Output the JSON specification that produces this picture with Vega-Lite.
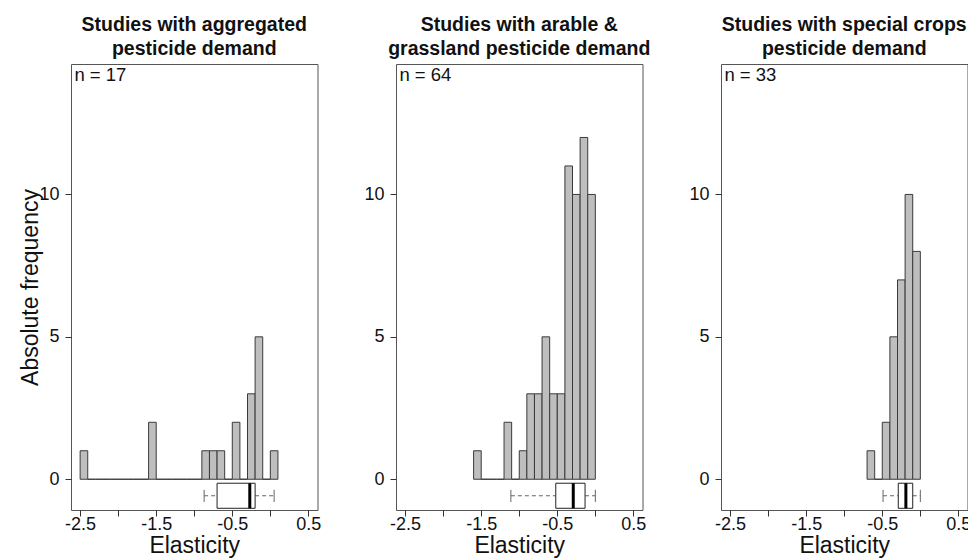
{
  "$schema": "https://vega.github.io/schema/vega-lite/v6.json",
  "background": "white",
  "padding": {"left": 19, "top": 14, "right": 0, "bottom": 0},
  "config": {
    "font": "Liberation Sans",
    "view": {"stroke": "#555555", "strokeWidth": 1},
    "axis": {"grid": false, "domain": false, "tickColor": "#333333", "tickSize": 6, "labelFont": "Liberation Sans", "labelFontSize": 18, "labelColor": "#111111", "titleFont": "Liberation Sans", "titleFontSize": 23, "titleFontWeight": "normal", "titleColor": "#111111"},
    "axisX": {"labelPadding": -1, "titlePadding": 1, "labelFlush": false, "labelOverlap": false},
    "axisY": {"labelPadding": 6, "titlePadding": -4, "labelOverlap": false},
    "title": {"font": "Liberation Sans", "fontSize": 19.5, "fontWeight": "bold", "anchor": "middle", "frame": "group", "lineHeight": 24.3, "color": "#111111", "baseline": "bottom", "offset": 4}
  },
  "datasets": {
    "hist": [
      {"panel": "A", "bin_start": -2.5, "bin_end": -2.4, "count": 1},
      {"panel": "A", "bin_start": -2.4, "bin_end": -2.3, "count": 0},
      {"panel": "A", "bin_start": -2.3, "bin_end": -2.2, "count": 0},
      {"panel": "A", "bin_start": -2.2, "bin_end": -2.1, "count": 0},
      {"panel": "A", "bin_start": -2.1, "bin_end": -2.0, "count": 0},
      {"panel": "A", "bin_start": -2.0, "bin_end": -1.9, "count": 0},
      {"panel": "A", "bin_start": -1.9, "bin_end": -1.8, "count": 0},
      {"panel": "A", "bin_start": -1.8, "bin_end": -1.7, "count": 0},
      {"panel": "A", "bin_start": -1.7, "bin_end": -1.6, "count": 0},
      {"panel": "A", "bin_start": -1.6, "bin_end": -1.5, "count": 2},
      {"panel": "A", "bin_start": -1.5, "bin_end": -1.4, "count": 0},
      {"panel": "A", "bin_start": -1.4, "bin_end": -1.3, "count": 0},
      {"panel": "A", "bin_start": -1.3, "bin_end": -1.2, "count": 0},
      {"panel": "A", "bin_start": -1.2, "bin_end": -1.1, "count": 0},
      {"panel": "A", "bin_start": -1.1, "bin_end": -1.0, "count": 0},
      {"panel": "A", "bin_start": -1.0, "bin_end": -0.9, "count": 0},
      {"panel": "A", "bin_start": -0.9, "bin_end": -0.8, "count": 1},
      {"panel": "A", "bin_start": -0.8, "bin_end": -0.7, "count": 1},
      {"panel": "A", "bin_start": -0.7, "bin_end": -0.6, "count": 1},
      {"panel": "A", "bin_start": -0.6, "bin_end": -0.5, "count": 0},
      {"panel": "A", "bin_start": -0.5, "bin_end": -0.4, "count": 2},
      {"panel": "A", "bin_start": -0.4, "bin_end": -0.3, "count": 0},
      {"panel": "A", "bin_start": -0.3, "bin_end": -0.2, "count": 3},
      {"panel": "A", "bin_start": -0.2, "bin_end": -0.1, "count": 5},
      {"panel": "A", "bin_start": -0.1, "bin_end": 0.0, "count": 0},
      {"panel": "A", "bin_start": 0.0, "bin_end": 0.1, "count": 1},
      {"panel": "B", "bin_start": -1.6, "bin_end": -1.5, "count": 1},
      {"panel": "B", "bin_start": -1.5, "bin_end": -1.4, "count": 0},
      {"panel": "B", "bin_start": -1.4, "bin_end": -1.3, "count": 0},
      {"panel": "B", "bin_start": -1.3, "bin_end": -1.2, "count": 0},
      {"panel": "B", "bin_start": -1.2, "bin_end": -1.1, "count": 2},
      {"panel": "B", "bin_start": -1.1, "bin_end": -1.0, "count": 0},
      {"panel": "B", "bin_start": -1.0, "bin_end": -0.9, "count": 1},
      {"panel": "B", "bin_start": -0.9, "bin_end": -0.8, "count": 3},
      {"panel": "B", "bin_start": -0.8, "bin_end": -0.7, "count": 3},
      {"panel": "B", "bin_start": -0.7, "bin_end": -0.6, "count": 5},
      {"panel": "B", "bin_start": -0.6, "bin_end": -0.5, "count": 3},
      {"panel": "B", "bin_start": -0.5, "bin_end": -0.4, "count": 3},
      {"panel": "B", "bin_start": -0.4, "bin_end": -0.3, "count": 11},
      {"panel": "B", "bin_start": -0.3, "bin_end": -0.2, "count": 10},
      {"panel": "B", "bin_start": -0.2, "bin_end": -0.1, "count": 12},
      {"panel": "B", "bin_start": -0.1, "bin_end": 0.0, "count": 10},
      {"panel": "C", "bin_start": -0.7, "bin_end": -0.6, "count": 1},
      {"panel": "C", "bin_start": -0.6, "bin_end": -0.5, "count": 0},
      {"panel": "C", "bin_start": -0.5, "bin_end": -0.4, "count": 2},
      {"panel": "C", "bin_start": -0.4, "bin_end": -0.3, "count": 5},
      {"panel": "C", "bin_start": -0.3, "bin_end": -0.2, "count": 7},
      {"panel": "C", "bin_start": -0.2, "bin_end": -0.1, "count": 10},
      {"panel": "C", "bin_start": -0.1, "bin_end": 0.0, "count": 8}
    ],
    "box": [
      {"panel": "A", "lo": -0.87, "q1": -0.70, "median": -0.27, "q3": -0.20, "hi": 0.05, "label": "n = 17"},
      {"panel": "B", "lo": -1.11, "q1": -0.52, "median": -0.29, "q3": -0.135, "hi": 0.0, "label": "n = 64"},
      {"panel": "C", "lo": -0.49, "q1": -0.29, "median": -0.19, "q3": -0.10, "hi": 0.0, "label": "n = 33"}
    ]
  },
  "bounds": "flush",
  "spacing": 78,
  "hconcat": [
    {
      "width": 246.5, "height": 446,
      "title": {"text": ["Studies with aggregated", "pesticide demand"]},
      "layer": [
        {"data": {"name": "hist"}, "transform": [{"filter": "datum.panel === 'A'"}],
         "mark": {"type": "rect", "fill": "#bebebe", "stroke": "#3a3a3a", "strokeWidth": 1},
         "encoding": {
           "x": {"field": "bin_start", "type": "quantitative", "title": "Elasticity", "scale": {"domain": [-2.62, 0.62], "nice": false, "zero": false},
                 "axis": {"values": [-2.5, -2, -1.5, -1, -0.5, 0, 0.5], "labelExpr": "datum.value == -2.5 ? '-2.5' : datum.value == -1.5 ? '-1.5' : datum.value == -0.5 ? '-0.5' : datum.value == 0.5 ? '0.5' : ''"}},
           "x2": {"field": "bin_end"},
           "y": {"field": "count", "type": "quantitative", "title": "Absolute frequency", "scale": {"domain": [-1.08, 14.58], "nice": false, "zero": false}, "axis": {"values": [0, 5, 10]}},
           "y2": {"datum": 0}
         }},
        {"data": {"name": "box"}, "transform": [{"filter": "datum.panel === 'A'"}],
         "mark": {"type": "rule", "color": "#666666", "strokeDash": [4, 3], "strokeWidth": 1},
         "encoding": {"x": {"field": "lo", "type": "quantitative", "title": "Elasticity"}, "x2": {"field": "q1"}, "y": {"datum": -0.58, "type": "quantitative", "title": "Absolute frequency"}}},
        {"data": {"name": "box"}, "transform": [{"filter": "datum.panel === 'A'"}],
         "mark": {"type": "rule", "color": "#666666", "strokeDash": [4, 3], "strokeWidth": 1},
         "encoding": {"x": {"field": "q3", "type": "quantitative", "title": "Elasticity"}, "x2": {"field": "hi"}, "y": {"datum": -0.58, "type": "quantitative", "title": "Absolute frequency"}}},
        {"data": {"name": "box"}, "transform": [{"filter": "datum.panel === 'A'"}],
         "mark": {"type": "rule", "color": "#666666", "strokeWidth": 1},
         "encoding": {"x": {"field": "lo", "type": "quantitative", "title": "Elasticity"}, "y": {"datum": -0.37, "type": "quantitative", "title": "Absolute frequency"}, "y2": {"datum": -0.8}}},
        {"data": {"name": "box"}, "transform": [{"filter": "datum.panel === 'A'"}],
         "mark": {"type": "rule", "color": "#666666", "strokeWidth": 1},
         "encoding": {"x": {"field": "hi", "type": "quantitative", "title": "Elasticity"}, "y": {"datum": -0.37, "type": "quantitative", "title": "Absolute frequency"}, "y2": {"datum": -0.8}}},
        {"data": {"name": "box"}, "transform": [{"filter": "datum.panel === 'A'"}],
         "mark": {"type": "rect", "fill": "white", "stroke": "#222222", "strokeWidth": 1},
         "encoding": {"x": {"field": "q1", "type": "quantitative", "title": "Elasticity"}, "x2": {"field": "q3"}, "y": {"datum": -0.14, "type": "quantitative", "title": "Absolute frequency"}, "y2": {"datum": -1.02}}},
        {"data": {"name": "box"}, "transform": [{"filter": "datum.panel === 'A'"}],
         "mark": {"type": "rule", "color": "#000000", "strokeWidth": 3},
         "encoding": {"x": {"field": "median", "type": "quantitative", "title": "Elasticity"}, "y": {"datum": -0.14, "type": "quantitative", "title": "Absolute frequency"}, "y2": {"datum": -1.02}}},
        {"data": {"name": "box"}, "transform": [{"filter": "datum.panel === 'A'"}],
         "mark": {"type": "text", "align": "left", "baseline": "middle", "fontSize": 18.5, "color": "#111111", "font": "Liberation Sans"},
         "encoding": {"text": {"field": "label"}, "x": {"datum": -2.575, "type": "quantitative", "title": "Elasticity"}, "y": {"datum": 14.19, "type": "quantitative", "title": "Absolute frequency"}}}
      ]
    },
    {
      "width": 246.5, "height": 446,
      "title": {"text": ["Studies with arable &", "grassland pesticide demand"]},
      "layer": [
        {"data": {"name": "hist"}, "transform": [{"filter": "datum.panel === 'B'"}],
         "mark": {"type": "rect", "fill": "#bebebe", "stroke": "#3a3a3a", "strokeWidth": 1},
         "encoding": {
           "x": {"field": "bin_start", "type": "quantitative", "title": "Elasticity", "scale": {"domain": [-2.62, 0.62], "nice": false, "zero": false},
                 "axis": {"values": [-2.5, -2, -1.5, -1, -0.5, 0, 0.5], "labelExpr": "datum.value == -2.5 ? '-2.5' : datum.value == -1.5 ? '-1.5' : datum.value == -0.5 ? '-0.5' : datum.value == 0.5 ? '0.5' : ''"}},
           "x2": {"field": "bin_end"},
           "y": {"field": "count", "type": "quantitative", "title": null, "scale": {"domain": [-1.08, 14.58], "nice": false, "zero": false}, "axis": {"values": [0, 5, 10]}},
           "y2": {"datum": 0}
         }},
        {"data": {"name": "box"}, "transform": [{"filter": "datum.panel === 'B'"}],
         "mark": {"type": "rule", "color": "#666666", "strokeDash": [4, 3], "strokeWidth": 1},
         "encoding": {"x": {"field": "lo", "type": "quantitative", "title": "Elasticity"}, "x2": {"field": "q1"}, "y": {"datum": -0.58, "type": "quantitative", "title": null}}},
        {"data": {"name": "box"}, "transform": [{"filter": "datum.panel === 'B'"}],
         "mark": {"type": "rule", "color": "#666666", "strokeDash": [4, 3], "strokeWidth": 1},
         "encoding": {"x": {"field": "q3", "type": "quantitative", "title": "Elasticity"}, "x2": {"field": "hi"}, "y": {"datum": -0.58, "type": "quantitative", "title": null}}},
        {"data": {"name": "box"}, "transform": [{"filter": "datum.panel === 'B'"}],
         "mark": {"type": "rule", "color": "#666666", "strokeWidth": 1},
         "encoding": {"x": {"field": "lo", "type": "quantitative", "title": "Elasticity"}, "y": {"datum": -0.37, "type": "quantitative", "title": null}, "y2": {"datum": -0.8}}},
        {"data": {"name": "box"}, "transform": [{"filter": "datum.panel === 'B'"}],
         "mark": {"type": "rule", "color": "#666666", "strokeWidth": 1},
         "encoding": {"x": {"field": "hi", "type": "quantitative", "title": "Elasticity"}, "y": {"datum": -0.37, "type": "quantitative", "title": null}, "y2": {"datum": -0.8}}},
        {"data": {"name": "box"}, "transform": [{"filter": "datum.panel === 'B'"}],
         "mark": {"type": "rect", "fill": "white", "stroke": "#222222", "strokeWidth": 1},
         "encoding": {"x": {"field": "q1", "type": "quantitative", "title": "Elasticity"}, "x2": {"field": "q3"}, "y": {"datum": -0.14, "type": "quantitative", "title": null}, "y2": {"datum": -1.02}}},
        {"data": {"name": "box"}, "transform": [{"filter": "datum.panel === 'B'"}],
         "mark": {"type": "rule", "color": "#000000", "strokeWidth": 3},
         "encoding": {"x": {"field": "median", "type": "quantitative", "title": "Elasticity"}, "y": {"datum": -0.14, "type": "quantitative", "title": null}, "y2": {"datum": -1.02}}},
        {"data": {"name": "box"}, "transform": [{"filter": "datum.panel === 'B'"}],
         "mark": {"type": "text", "align": "left", "baseline": "middle", "fontSize": 18.5, "color": "#111111", "font": "Liberation Sans"},
         "encoding": {"text": {"field": "label"}, "x": {"datum": -2.575, "type": "quantitative", "title": "Elasticity"}, "y": {"datum": 14.19, "type": "quantitative", "title": null}}}
      ]
    },
    {
      "width": 246.5, "height": 446,
      "title": {"text": ["Studies with special crops", "pesticide demand"]},
      "layer": [
        {"data": {"name": "hist"}, "transform": [{"filter": "datum.panel === 'C'"}],
         "mark": {"type": "rect", "fill": "#bebebe", "stroke": "#3a3a3a", "strokeWidth": 1},
         "encoding": {
           "x": {"field": "bin_start", "type": "quantitative", "title": "Elasticity", "scale": {"domain": [-2.62, 0.62], "nice": false, "zero": false},
                 "axis": {"values": [-2.5, -2, -1.5, -1, -0.5, 0, 0.5], "labelExpr": "datum.value == -2.5 ? '-2.5' : datum.value == -1.5 ? '-1.5' : datum.value == -0.5 ? '-0.5' : datum.value == 0.5 ? '0.5' : ''"}},
           "x2": {"field": "bin_end"},
           "y": {"field": "count", "type": "quantitative", "title": null, "scale": {"domain": [-1.08, 14.58], "nice": false, "zero": false}, "axis": {"values": [0, 5, 10]}},
           "y2": {"datum": 0}
         }},
        {"data": {"name": "box"}, "transform": [{"filter": "datum.panel === 'C'"}],
         "mark": {"type": "rule", "color": "#666666", "strokeDash": [4, 3], "strokeWidth": 1},
         "encoding": {"x": {"field": "lo", "type": "quantitative", "title": "Elasticity"}, "x2": {"field": "q1"}, "y": {"datum": -0.58, "type": "quantitative", "title": null}}},
        {"data": {"name": "box"}, "transform": [{"filter": "datum.panel === 'C'"}],
         "mark": {"type": "rule", "color": "#666666", "strokeDash": [4, 3], "strokeWidth": 1},
         "encoding": {"x": {"field": "q3", "type": "quantitative", "title": "Elasticity"}, "x2": {"field": "hi"}, "y": {"datum": -0.58, "type": "quantitative", "title": null}}},
        {"data": {"name": "box"}, "transform": [{"filter": "datum.panel === 'C'"}],
         "mark": {"type": "rule", "color": "#666666", "strokeWidth": 1},
         "encoding": {"x": {"field": "lo", "type": "quantitative", "title": "Elasticity"}, "y": {"datum": -0.37, "type": "quantitative", "title": null}, "y2": {"datum": -0.8}}},
        {"data": {"name": "box"}, "transform": [{"filter": "datum.panel === 'C'"}],
         "mark": {"type": "rule", "color": "#666666", "strokeWidth": 1},
         "encoding": {"x": {"field": "hi", "type": "quantitative", "title": "Elasticity"}, "y": {"datum": -0.37, "type": "quantitative", "title": null}, "y2": {"datum": -0.8}}},
        {"data": {"name": "box"}, "transform": [{"filter": "datum.panel === 'C'"}],
         "mark": {"type": "rect", "fill": "white", "stroke": "#222222", "strokeWidth": 1},
         "encoding": {"x": {"field": "q1", "type": "quantitative", "title": "Elasticity"}, "x2": {"field": "q3"}, "y": {"datum": -0.14, "type": "quantitative", "title": null}, "y2": {"datum": -1.02}}},
        {"data": {"name": "box"}, "transform": [{"filter": "datum.panel === 'C'"}],
         "mark": {"type": "rule", "color": "#000000", "strokeWidth": 3},
         "encoding": {"x": {"field": "median", "type": "quantitative", "title": "Elasticity"}, "y": {"datum": -0.14, "type": "quantitative", "title": null}, "y2": {"datum": -1.02}}},
        {"data": {"name": "box"}, "transform": [{"filter": "datum.panel === 'C'"}],
         "mark": {"type": "text", "align": "left", "baseline": "middle", "fontSize": 18.5, "color": "#111111", "font": "Liberation Sans"},
         "encoding": {"text": {"field": "label"}, "x": {"datum": -2.575, "type": "quantitative", "title": "Elasticity"}, "y": {"datum": 14.19, "type": "quantitative", "title": null}}}
      ]
    }
  ]
}
